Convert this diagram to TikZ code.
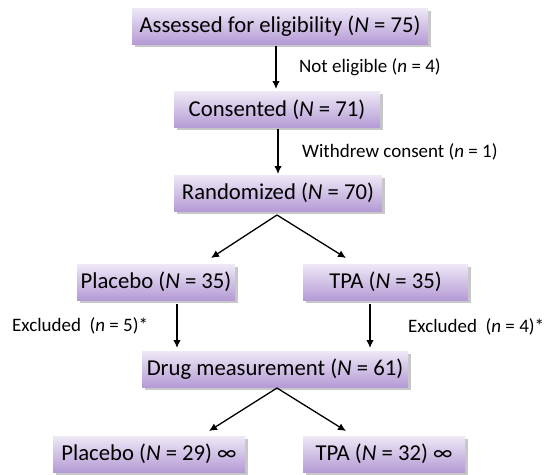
\documentclass[tikz,border=0pt]{standalone}
\usepackage{fontspec}
\setmainfont{Carlito}
\usetikzlibrary{arrows.meta,shadows}
\definecolor{boxtop}{HTML}{EEE8F6}
\definecolor{boxbot}{HTML}{B49BD5}
\tikzset{
  stagebox/.style={rectangle, inner sep=0pt, minimum height=36pt,
    top color=boxtop, bottom color=boxbot, draw=none,
    drop shadow={shadow xshift=2.5pt, shadow yshift=-2.5pt, fill=black, opacity=0.22},
    font=\fontsize{22.7}{26}\selectfont},
  notelabel/.style={inner sep=0pt, anchor=west, font=\fontsize{19}{22}\selectfont},
  arr/.style={-{Latex[length=8pt,width=7.5pt]}, line width=1.3pt, black}
}
\begin{document}
\begin{tikzpicture}[x=1pt,y=-1pt]
\useasboundingbox (0,0) rectangle (546,474);
% boxes
\node[stagebox, minimum width=296pt] (b1) at (280,26) {Assessed for eligibility (\textit{N} = 75)};
\node[stagebox, minimum width=206pt] (b2) at (277,109.5) {Consented (\textit{N} = 71)};
\node[stagebox, minimum width=208pt] (b3) at (278,193) {Randomized (\textit{N} = 70)};
\node[stagebox, minimum width=158pt] (b4) at (156,282) {Placebo (\textit{N} = 35)};
\node[stagebox, minimum width=165pt] (b5) at (385.5,282) {TPA (\textit{N} = 35)};
\node[stagebox, minimum width=266pt] (b6) at (275,369) {Drug measurement (\textit{N} = 61)};
\node[stagebox, minimum width=192pt] (b7) at (149,454) {Placebo (\textit{N} = 29) ∞};
\node[stagebox, minimum width=162pt] (b8) at (384,454) {TPA (\textit{N} = 32) ∞};
% labels
\node[notelabel] (l1) at (299,67) {Not eligible (\textit{n} = 4)};
\node[notelabel] (l2) at (302,152) {Withdrew consent (\textit{n} = 1)};
\node[notelabel] (l3) at (12,326) {Excluded\ \ (\textit{n} = 5)*};
\node[notelabel] (l4) at (408,327) {Excluded\ \ (\textit{n} = 4)*};
% connector points
\coordinate (s1) at (276,46);  \coordinate (e1) at (276,89);
\coordinate (s2) at (278,129); \coordinate (e2) at (278,174);
\coordinate (s3) at (277,215); \coordinate (e3a) at (211,258); \coordinate (e3b) at (346,258);
\coordinate (s4a) at (177,304); \coordinate (e4a) at (177,348);
\coordinate (s4b) at (370,304); \coordinate (e4b) at (370,348);
\coordinate (s6) at (277,388); \coordinate (e6a) at (209,431); \coordinate (e6b) at (346,431);
% connectors
\draw[arr] (s1) -- (e1);
\draw[arr] (s2) -- (e2);
\draw[arr] (s3) -- (e3a);
\draw[arr] (s3) -- (e3b);
\draw[arr] (s4a) -- (e4a);
\draw[arr] (s4b) -- (e4b);
\draw[arr] (s6) -- (e6a);
\draw[arr] (s6) -- (e6b);
\end{tikzpicture}
\end{document}
